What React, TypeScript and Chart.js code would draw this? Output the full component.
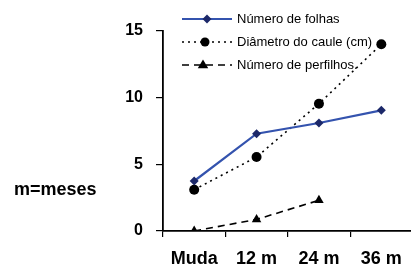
import React, { useEffect, useRef } from "react";
import { Chart, registerables } from "chart.js";

Chart.register(...registerables);

const categories = ["Muda", "12 m", "24 m", "36 m"];
const folhas = [3.75, 7.3, 8.1, 9.05];
const diametro = [3.1, 5.55, 9.55, 14.0];
const perfilhos: (number | null)[] = [0, 0.87, 2.3, null];
const yTicks = [0, 5, 10, 15];
const legendLabels = ["Número de folhas", "Diâmetro do caule (cm)", "Número de perfilhos."];
const sideNote = "m=meses";

const BLUE = "#3453ae";
const NAVY = "#1c2869";

function drawMarker(ctx: CanvasRenderingContext2D, style: string, x: number, y: number, r: number, color: string) {
  ctx.save();
  ctx.fillStyle = color;
  ctx.setLineDash([]);
  ctx.beginPath();
  if (style === "rectRot") {
    ctx.moveTo(x, y - r);
    ctx.lineTo(x + r, y);
    ctx.lineTo(x, y + r);
    ctx.lineTo(x - r, y);
    ctx.closePath();
  } else if (style === "circle") {
    ctx.arc(x, y, r, 0, Math.PI * 2);
  } else {
    ctx.moveTo(x, y - r);
    ctx.lineTo(x + r * 0.95, y + r * 0.6);
    ctx.lineTo(x - r * 0.95, y + r * 0.6);
    ctx.closePath();
  }
  ctx.fill();
  ctx.restore();
}

const overlayPlugin = {
  id: "overlay",
  afterDraw(chart: any) {
    const ctx: CanvasRenderingContext2D = chart.ctx;
    ctx.save();
    ctx.fillStyle = "#000";
    ctx.font = "bold 18px 'Liberation Sans', Arial, sans-serif";
    ctx.textBaseline = "middle";
    ctx.textAlign = "left";
    ctx.fillText(sideNote, 14, 190);

    const rows = [
      { y: 19, color: BLUE, dash: [] as number[], width: 2, marker: "rectRot", mcolor: NAVY, mr: 4.5, mx: 207 },
      { y: 42, color: "#000", dash: [2, 4], width: 1.6, marker: "circle", mcolor: "#000", mr: 4.5, mx: 205 },
      { y: 65, color: "#000", dash: [7, 5], width: 1.6, marker: "triangle", mcolor: "#000", mr: 5.5, mx: 203 },
    ];
    rows.forEach((r, i) => {
      ctx.save();
      ctx.strokeStyle = r.color;
      ctx.lineWidth = r.width;
      ctx.setLineDash(r.dash);
      ctx.beginPath();
      ctx.moveTo(182, r.y);
      ctx.lineTo(232, r.y);
      ctx.stroke();
      ctx.restore();
      drawMarker(ctx, r.marker, r.mx, r.y, r.mr, r.mcolor);
      ctx.fillStyle = "#000";
      ctx.font = "13px 'Liberation Sans', Arial, sans-serif";
      ctx.textBaseline = "middle";
      ctx.fillText(legendLabels[i], 237, r.y);
    });
    ctx.restore();
  },
};

export default function App() {
  const ref = useRef<HTMLCanvasElement>(null);
  useEffect(() => {
    document.body.style.margin = "0";
    const chart = new Chart(ref.current!, {
      type: "line",
      data: {
        labels: categories,
        datasets: [
          {
            label: legendLabels[0],
            data: folhas,
            borderColor: BLUE,
            borderWidth: 2.2,
            pointStyle: "rectRot",
            pointRadius: 4.5,
            pointBackgroundColor: NAVY,
            pointBorderColor: NAVY,
            pointBorderWidth: 0,
            tension: 0,
          },
          {
            label: legendLabels[1],
            data: diametro,
            borderColor: "#000",
            borderWidth: 1.6,
            borderDash: [2, 4],
            pointStyle: "circle",
            pointRadius: 5,
            pointBackgroundColor: "#000",
            pointBorderColor: "#000",
            pointBorderWidth: 0,
            tension: 0,
          },
          {
            label: legendLabels[2],
            data: perfilhos,
            borderColor: "#000",
            borderWidth: 1.6,
            borderDash: [7, 5],
            pointStyle: "triangle",
            pointRadius: 5.5,
            pointBackgroundColor: "#000",
            pointBorderColor: "#000",
            pointBorderWidth: 0,
            tension: 0,
          },
        ],
      },
      options: {
        animation: false,
        responsive: false,
        maintainAspectRatio: false,
        layout: { padding: { top: 31, right: 1, left: 0, bottom: 0 } },
        plugins: { legend: { display: false }, tooltip: { enabled: false } },
        scales: {
          x: {
            type: "category",
            offset: true,
            grid: { offset: true, drawOnChartArea: false, drawTicks: true, tickLength: 6, color: "#000", lineWidth: 1.2 },
            border: { color: "#000", width: 1.8 },
            ticks: {
              color: "#000",
              padding: 11,
              maxRotation: 0,
              font: { family: "'Liberation Sans', Arial, sans-serif", size: 18, weight: "bold" },
            },
            afterFit: (s: any) => {
              s.height = 40;
            },
          },
          y: {
            min: 0,
            max: 15,
            afterBuildTicks: (s: any) => {
              s.ticks = yTicks.map((v) => ({ value: v }));
            },
            grid: { drawOnChartArea: false, drawTicks: true, tickLength: 7, color: "#000", lineWidth: 1.2 },
            border: { color: "#000", width: 1.8 },
            ticks: {
              color: "#000",
              padding: 13,
              font: { family: "'Liberation Sans', Arial, sans-serif", size: 16, weight: "bold" },
            },
            afterFit: (s: any) => {
              s.width = 163;
            },
          },
        },
      },
      plugins: [overlayPlugin],
    } as any);
    return () => chart.destroy();
  }, []);
  return (
    <div style={{ position: "fixed", left: 0, top: 0, width: 411, height: 271, overflow: "hidden", background: "#fff" }}>
      <canvas ref={ref} width={418} height={271} style={{ width: 418, height: 271, display: "block" }} />
    </div>
  );
}
